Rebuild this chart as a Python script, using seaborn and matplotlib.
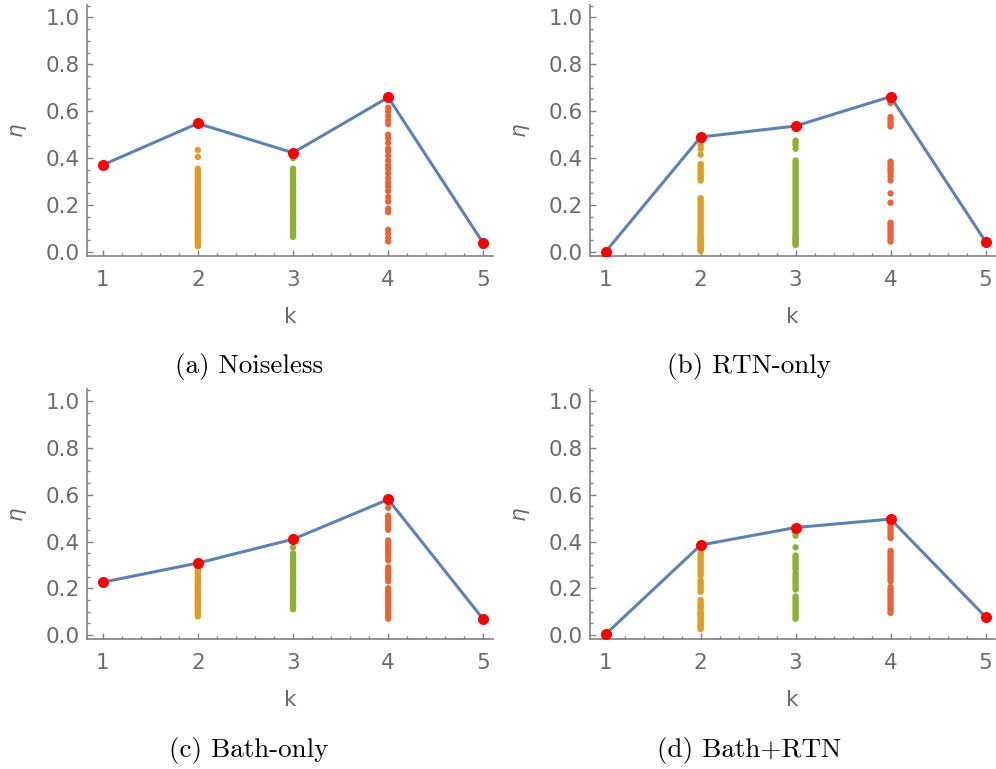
import numpy as np
import pandas as pd
import matplotlib
matplotlib.use("Agg")
import matplotlib.pyplot as plt
import seaborn as sns
from matplotlib.ticker import MultipleLocator

sns.set_style("ticks")
plt.rcParams["font.family"] = ["DejaVu Sans"]
plt.rcParams["mathtext.fontset"] = "dejavusans"

ks = [1, 2, 3, 4, 5]

# best eta per k (red points)
eta_a = [0.371, 0.548, 0.423, 0.659, 0.037]
eta_b = [0.002, 0.490, 0.537, 0.662, 0.045]
eta_c = [0.226, 0.308, 0.410, 0.580, 0.067]
eta_d = [0.004, 0.385, 0.460, 0.496, 0.078]

# sampled eta values at k = 2, 3, 4
a_k2 = [0.435, 0.405, 0.355, 0.35, 0.345, 0.34, 0.335, 0.33, 0.32, 0.315, 0.31, 0.30, 0.295,
        0.29, 0.28, 0.275, 0.27, 0.26, 0.255, 0.25, 0.245, 0.24, 0.23, 0.225, 0.22, 0.21, 0.205,
        0.20, 0.19, 0.185, 0.18, 0.17, 0.165, 0.16, 0.15, 0.145, 0.14, 0.13, 0.125, 0.12, 0.11,
        0.105, 0.10, 0.09, 0.085, 0.08, 0.07, 0.065, 0.06, 0.05, 0.045, 0.04, 0.03, 0.025]
a_k3 = [0.40, 0.355, 0.35, 0.34, 0.335, 0.33, 0.32, 0.31, 0.305, 0.30, 0.29, 0.285, 0.28, 0.27,
        0.26, 0.255, 0.25, 0.24, 0.235, 0.23, 0.22, 0.21, 0.205, 0.20, 0.19, 0.18, 0.175, 0.17,
        0.16, 0.15, 0.145, 0.14, 0.13, 0.12, 0.115, 0.11, 0.10, 0.09, 0.085, 0.08, 0.07, 0.065]
a_k4 = [0.615, 0.60, 0.58, 0.56, 0.545, 0.50, 0.485, 0.465, 0.44, 0.43, 0.41, 0.39, 0.37, 0.355,
        0.335, 0.315, 0.295, 0.28, 0.26, 0.235, 0.215, 0.185, 0.17, 0.095, 0.08, 0.06, 0.045]

b_k2 = [0.47, 0.455, 0.44, 0.415, 0.375, 0.365, 0.355, 0.345, 0.335, 0.325, 0.315, 0.305, 0.23,
        0.22, 0.21, 0.20, 0.19, 0.18, 0.17, 0.16, 0.15, 0.14, 0.13, 0.12, 0.11, 0.10, 0.09, 0.08,
        0.07, 0.065, 0.06, 0.055, 0.05, 0.045, 0.04, 0.035, 0.03, 0.025, 0.02, 0.015, 0.01, 0.005]
b_k3 = [0.525, 0.475, 0.465, 0.455, 0.44, 0.39, 0.38, 0.37, 0.36, 0.35, 0.34, 0.33, 0.32, 0.31,
        0.30, 0.29, 0.28, 0.27, 0.26, 0.25, 0.24, 0.23, 0.22, 0.21, 0.20, 0.19, 0.18, 0.17, 0.16,
        0.15, 0.14, 0.13, 0.12, 0.11, 0.10, 0.09, 0.08, 0.07, 0.065, 0.06, 0.055, 0.05, 0.045,
        0.04, 0.035, 0.03]
b_k4 = [0.645, 0.635, 0.575, 0.565, 0.555, 0.545, 0.535, 0.385, 0.375, 0.365, 0.355, 0.345,
        0.335, 0.32, 0.305, 0.25, 0.21, 0.125, 0.115, 0.105, 0.095, 0.085, 0.075, 0.065, 0.055,
        0.045]

c_k2 = [0.295, 0.285, 0.28, 0.27, 0.265, 0.26, 0.25, 0.245, 0.24, 0.23, 0.225, 0.22, 0.21, 0.205,
        0.20, 0.19, 0.185, 0.18, 0.17, 0.165, 0.16, 0.15, 0.145, 0.14, 0.13, 0.125, 0.12, 0.11,
        0.105, 0.10, 0.09, 0.085, 0.08]
c_k3 = [0.375, 0.35, 0.34, 0.335, 0.33, 0.32, 0.31, 0.305, 0.30, 0.29, 0.28, 0.275, 0.27, 0.26,
        0.25, 0.245, 0.24, 0.23, 0.22, 0.215, 0.21, 0.20, 0.19, 0.185, 0.18, 0.17, 0.16, 0.155,
        0.15, 0.14, 0.13, 0.125, 0.12, 0.11]
c_k4 = [0.545, 0.51, 0.50, 0.49, 0.48, 0.47, 0.46, 0.45, 0.405, 0.395, 0.385, 0.375, 0.365, 0.355,
        0.345, 0.335, 0.32, 0.29, 0.28, 0.27, 0.26, 0.25, 0.24, 0.23, 0.20, 0.19, 0.18, 0.17, 0.16,
        0.15, 0.14, 0.13, 0.12, 0.11, 0.10, 0.09, 0.08, 0.07]

d_k2 = [0.355, 0.345, 0.335, 0.325, 0.315, 0.305, 0.295, 0.285, 0.275, 0.265, 0.255, 0.235, 0.225,
        0.215, 0.205, 0.195, 0.185, 0.15, 0.14, 0.13, 0.125, 0.12, 0.11, 0.10, 0.095, 0.09, 0.085,
        0.08, 0.07, 0.065, 0.06, 0.05, 0.045, 0.04, 0.035, 0.03, 0.025]
d_k3 = [0.445, 0.435, 0.425, 0.375, 0.34, 0.33, 0.32, 0.31, 0.30, 0.29, 0.28, 0.265, 0.255, 0.245,
        0.235, 0.225, 0.215, 0.205, 0.195, 0.165, 0.155, 0.145, 0.135, 0.125, 0.115, 0.105, 0.095,
        0.085, 0.075, 0.07]
d_k4 = [0.485, 0.475, 0.465, 0.455, 0.445, 0.435, 0.425, 0.415, 0.36, 0.35, 0.34, 0.33, 0.32,
        0.31, 0.30, 0.29, 0.28, 0.27, 0.26, 0.25, 0.24, 0.23, 0.205, 0.195, 0.185, 0.175, 0.165,
        0.155, 0.145, 0.135, 0.125, 0.115, 0.105, 0.095]

captions = ["(a) Noiseless", "(b) RTN-only", "(c) Bath-only", "(d) Bath+RTN"]

panels = [
    (eta_a, a_k2, a_k3, a_k4),
    (eta_b, b_k2, b_k3, b_k4),
    (eta_c, c_k2, c_k3, c_k4),
    (eta_d, d_k2, d_k3, d_k4),
]

col_k = {2: "#E09C24", 3: "#8FB032", 4: "#EB6235"}
line_col = "#5E81B5"
gray = "#6b6b6b"
axis_gray = "#808080"

fig = plt.figure(figsize=(9.96, 7.69), dpi=100)
rects = [
    [0.0873, 0.667, 0.4076, 0.3264],
    [0.5924, 0.667, 0.4066, 0.3264],
    [0.0873, 0.169, 0.4076, 0.3250],
    [0.5924, 0.169, 0.4066, 0.3250],
]
cap_pos = [(0.25, 0.524), (0.752, 0.524), (0.25, 0.024), (0.752, 0.024)]

for i, (eta, s2, s3, s4) in enumerate(panels):
    ax = fig.add_axes(rects[i])
    pts = pd.DataFrame({
        "k": [2] * len(s2) + [3] * len(s3) + [4] * len(s4),
        "eta": s2 + s3 + s4,
    })
    sns.scatterplot(data=pts, x="k", y="eta", hue="k", palette=col_k, s=21,
                    linewidth=0, legend=False, ax=ax, zorder=2)
    best = pd.DataFrame({"k": ks, "eta": eta})
    sns.lineplot(data=best, x="k", y="eta", color=line_col, lw=2.2, ax=ax, zorder=3)
    sns.scatterplot(data=best, x="k", y="eta", color="#FF0000", s=64, linewidth=0,
                    ax=ax, zorder=4)

    ax.set_xlim(0.835, 5.1)
    ax.set_ylim(-0.017, 1.052)
    ax.xaxis.set_major_locator(MultipleLocator(1))
    ax.xaxis.set_minor_locator(MultipleLocator(0.2))
    ax.yaxis.set_major_locator(MultipleLocator(0.2))
    ax.yaxis.set_minor_locator(MultipleLocator(0.05))
    ax.yaxis.set_major_formatter(matplotlib.ticker.FormatStrFormatter("%.1f"))
    ax.tick_params(which="both", direction="in", color=axis_gray, width=1)
    ax.tick_params(which="major", length=4.5, labelsize=15.5, labelcolor=gray)
    ax.tick_params(axis="x", which="major", pad=10)
    ax.tick_params(axis="y", which="major", pad=5)
    ax.tick_params(which="minor", length=2.5)
    for side in ["top", "right"]:
        ax.spines[side].set_visible(False)
    for side in ["left", "bottom"]:
        ax.spines[side].set_color(axis_gray)
        ax.spines[side].set_linewidth(1.2)
    ax.set_xlabel("k", fontsize=15.5, color=gray, labelpad=12)
    ax.set_ylabel(r"$\eta$", fontsize=15.5, color=gray, labelpad=12)
    ax.patch.set_alpha(0)

    fig.text(cap_pos[i][0], cap_pos[i][1], captions[i], family="cmr10", fontsize=19.5,
             ha="center", va="center", color="black")

fig.savefig("out.png", dpi=100)
